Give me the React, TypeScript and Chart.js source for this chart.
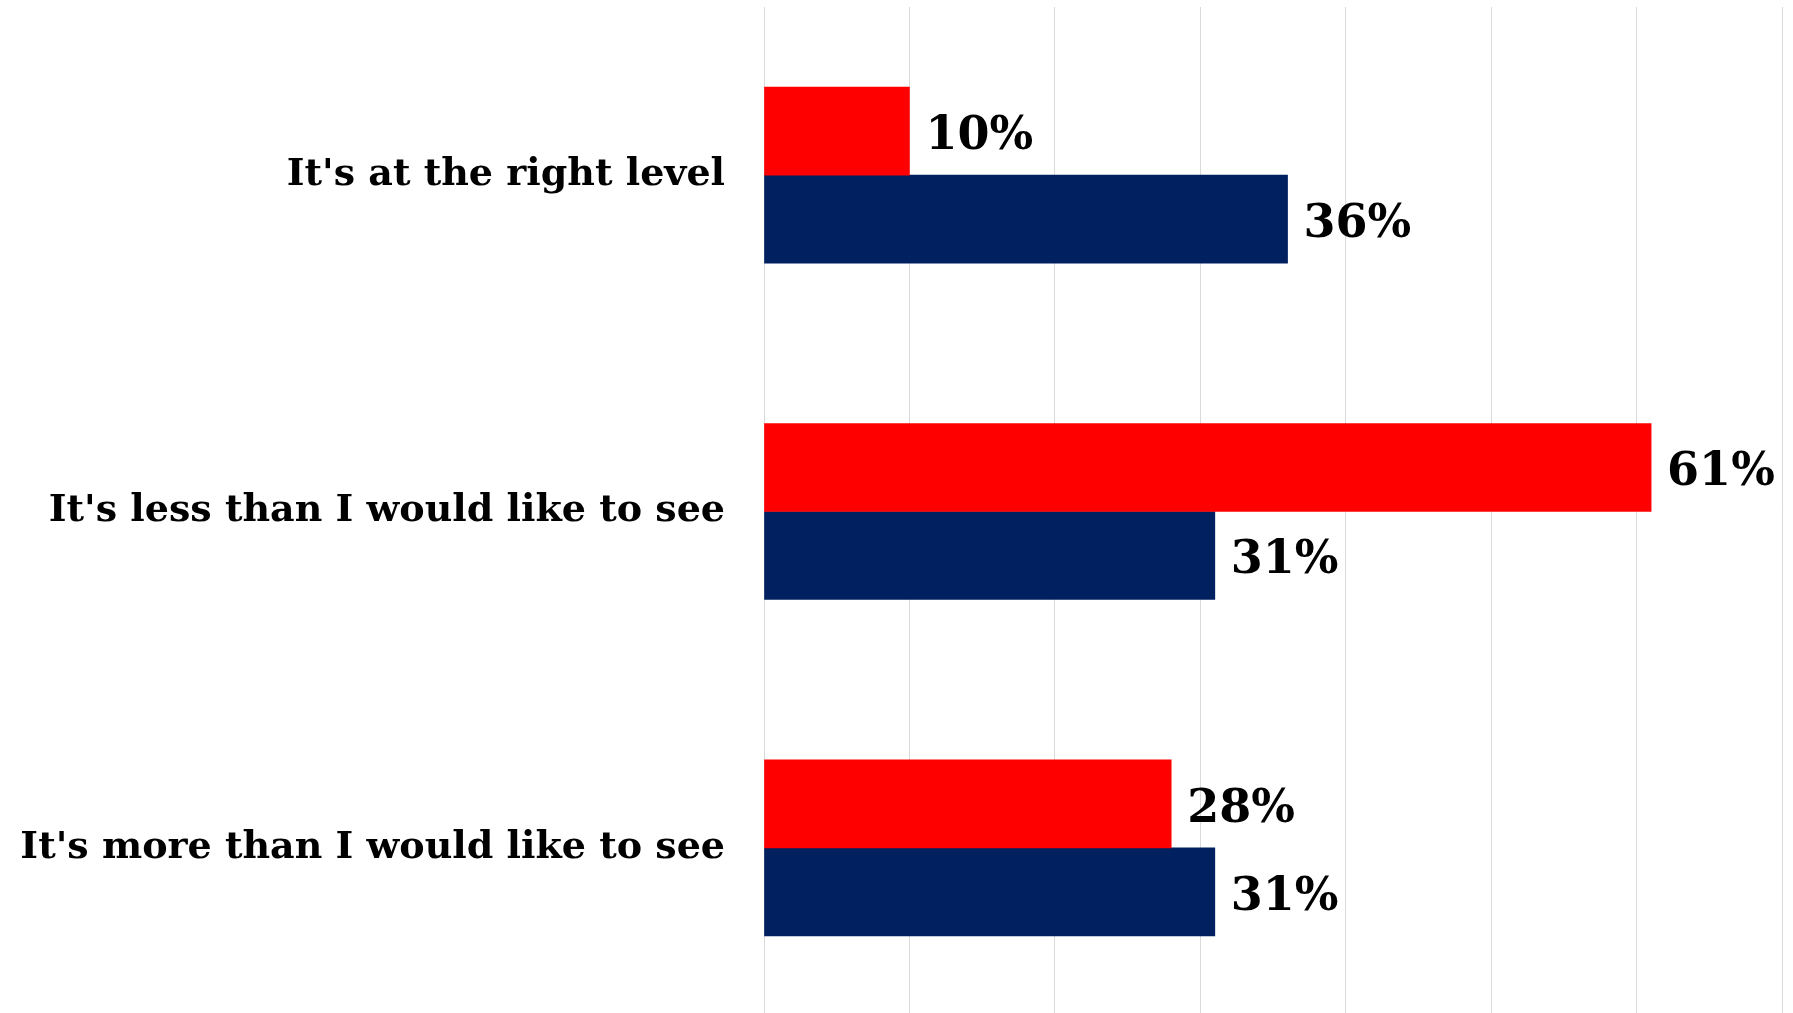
import React, { useEffect, useRef } from "react";
import { Chart, registerables } from "chart.js";

Chart.register(...registerables);

const categories = [
  "It's at the right level",
  "It's less than I would like to see",
  "It's more than I would like to see",
];
const seriesRedName = "Series 1";
const seriesRedValues = [10, 61, 28];
const seriesBlueName = "Series 2";
const seriesBlueValues = [36, 31, 31];
const axisMin = 0;
const axisMax = 70;
const axisStep = 10;

const valueLabelPlugin = {
  id: "valueLabels",
  afterDatasetsDraw(chart: any) {
    const ctx = chart.ctx;
    ctx.save();
    ctx.fillStyle = "#000000";
    ctx.font = "bold 46px 'DejaVu Serif'";
    ctx.textAlign = "left";
    ctx.textBaseline = "middle";
    chart.data.datasets.forEach((ds: any, di: number) => {
      const meta = chart.getDatasetMeta(di);
      meta.data.forEach((bar: any, i: number) => {
        const v = ds.data[i];
        ctx.fillText(v + "%", bar.x + 16, bar.y + 6);
      });
    });
    ctx.restore();
  },
};

export default function App() {
  const ref = useRef<HTMLCanvasElement | null>(null);
  useEffect(() => {
    if (!ref.current) return;
    const chart = new Chart(ref.current, {
      type: "bar",
      data: {
        labels: categories,
        datasets: [
          {
            label: seriesRedName,
            data: seriesRedValues,
            backgroundColor: "#FF0000",
            barThickness: 88,
          },
          {
            label: seriesBlueName,
            data: seriesBlueValues,
            backgroundColor: "#002060",
            barThickness: 88,
          },
        ],
      },
      options: {
        indexAxis: "y",
        responsive: false,
        animation: false,
        layout: { padding: { top: 7, right: 11, bottom: 0, left: 0 } },
        plugins: {
          legend: { display: false },
          tooltip: { enabled: false },
        },
        scales: {
          x: {
            min: axisMin,
            max: axisMax,
            ticks: { display: false, stepSize: axisStep },
            grid: { color: "#d9d9d9", lineWidth: 1, drawTicks: false },
            border: { display: false },
          },
          y: {
            ticks: {
              color: "#000000",
              padding: 39,
              font: { family: "'DejaVu Serif'", size: 38, weight: "bold" },
            },
            grid: { display: false, drawTicks: false },
            border: { display: false },
            afterFit(scale: any) {
              scale.width = 764;
              scale.paddingTop = 0;
              scale.paddingBottom = 0;
            },
          },
        },
      },
      plugins: [valueLabelPlugin],
    });
    return () => chart.destroy();
  }, []);
  return (
    <div
      style={{
        position: "fixed",
        left: 0,
        top: 0,
        width: 1793,
        height: 1013,
        overflow: "hidden",
        background: "#ffffff",
      }}
    >
      <canvas ref={ref} width={1793} height={1016} style={{ display: "block" }} />
    </div>
  );
}
